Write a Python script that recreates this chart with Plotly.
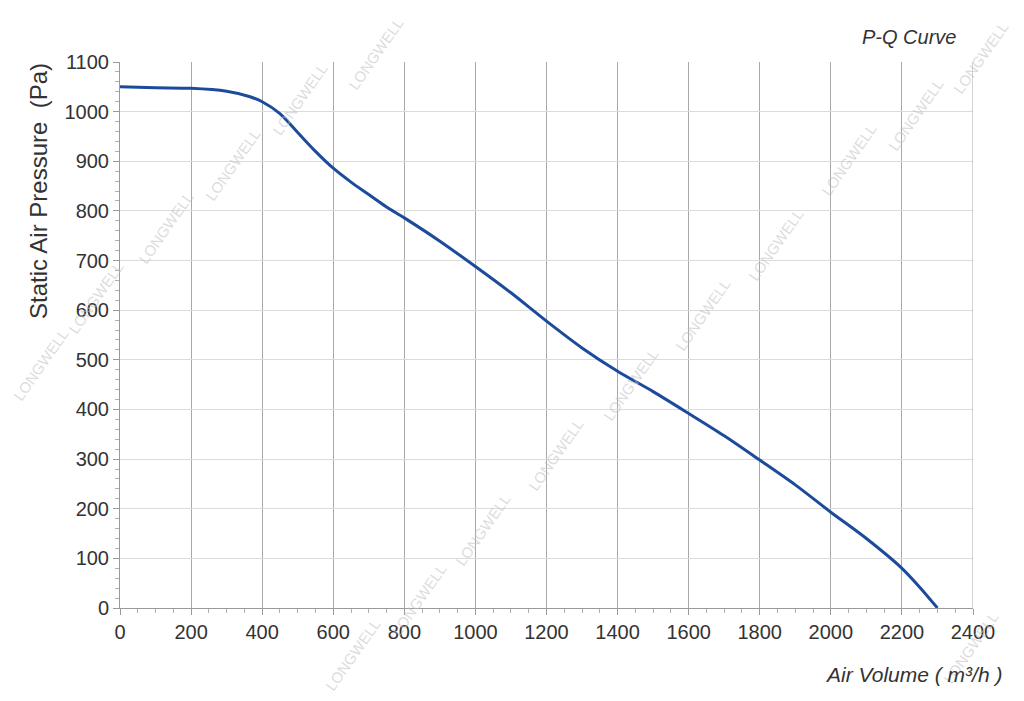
import plotly.graph_objects as go

air_volume = [0, 100, 200, 300, 366, 400, 450, 500, 550, 600, 650, 700, 750, 800, 900, 1000, 1100,
              1200, 1300, 1400, 1500, 1600, 1700, 1800, 1900, 2000, 2100, 2200, 2250, 2300]
pressure = [1050, 1048, 1047, 1041, 1030, 1020, 996, 958, 920, 886, 858, 833, 808, 786, 739, 688,
            635, 578, 524, 477, 436, 392, 347, 298, 248, 193, 140, 80, 42, 0]

x_ticks = list(range(0, 2401, 200))
y_ticks = list(range(0, 1101, 100))

# reference-pixel frame of the plotting area (used only to place annotations)
L, R, T, B = 120, 973, 62, 608


def px2paper(px, py):
    return (px - L) / (R - L), (B - py) / (B - T)


fig = go.Figure()
fig.add_trace(go.Scatter(x=air_volume, y=pressure, mode="lines",
                         line=dict(color="#1c4b9b", width=3, shape="spline", smoothing=0.8),
                         showlegend=False, hoverinfo="skip"))

# watermarks
wm = [(375, 54), (300, 100), (232, 165), (165, 228), (95, 298), (40, 365),
      (980, 58), (915, 115), (848, 160), (775, 245), (702, 315), (630, 385),
      (555, 455), (482, 530), (418, 600), (352, 655), (970, 648)]
for px, py in wm:
    xp, yp = px2paper(px, py)
    fig.add_annotation(x=xp, y=yp, xref="paper", yref="paper", xanchor="center", yanchor="middle",
                       text="LONGWELL", showarrow=False, textangle=-55,
                       font=dict(family="Liberation Sans", size=15, color="rgba(190,190,190,0.55)"))

xp, yp = px2paper(958, 37)
fig.add_annotation(x=xp, y=yp, xref="paper", yref="paper", xanchor="right", yanchor="middle",
                   text="<i>P-Q Curve</i>", showarrow=False,
                   font=dict(family="Liberation Sans", size=20, color="#333333"))
xp, yp = px2paper(913, 674)
fig.add_annotation(x=xp, y=yp, xref="paper", yref="paper", xanchor="center", yanchor="middle",
                   text="<i>Air Volume ( m³/h )</i>", showarrow=False,
                   font=dict(family="Liberation Sans", size=21, color="#333333"))
xp, yp = px2paper(38, 191)
fig.add_annotation(x=xp, y=yp, xref="paper", yref="paper", xanchor="center", yanchor="middle",
                   textangle=-90, text="Static Air Pressure  (Pa)", showarrow=False,
                   font=dict(family="Liberation Sans", size=24, color="#333333"))

W, H = 1008, 685
fig.update_layout(
    width=W, height=H,
    margin=dict(l=L - 8, r=W - (R - 8), t=T - 8, b=H - (B - 8), autoexpand=False),
    paper_bgcolor="white", plot_bgcolor="white",
    font=dict(family="Liberation Sans", color="#333333"),
    xaxis=dict(range=[0, 2400], tickvals=x_ticks, showgrid=True, gridcolor="#a8a8a8", gridwidth=1,
               showline=True, linecolor="#9a9a9a", mirror=False, ticks="outside", ticklen=6,
               tickcolor="#9a9a9a", tickfont=dict(size=20, color="#333333"), zeroline=False,
               automargin=False,
               minor=dict(dtick=50, ticks="outside", ticklen=4, tickcolor="#b0b0b0", showgrid=False)),
    yaxis=dict(range=[0, 1100], tickvals=y_ticks, showgrid=True, gridcolor="#dcdcdc", gridwidth=1,
               showline=True, linecolor="#9a9a9a", ticks="outside", ticklen=6, tickcolor="#9a9a9a",
               tickfont=dict(size=20, color="#333333"), zeroline=False, automargin=False,
               minor=dict(dtick=20, ticks="outside", ticklen=4, tickcolor="#b0b0b0", showgrid=False)),
)
fig.add_shape(type="line", xref="x", yref="paper", x0=2400, x1=2400, y0=0, y1=1,
              line=dict(color="#a8a8a8", width=1))
fig.write_html("out.html")
